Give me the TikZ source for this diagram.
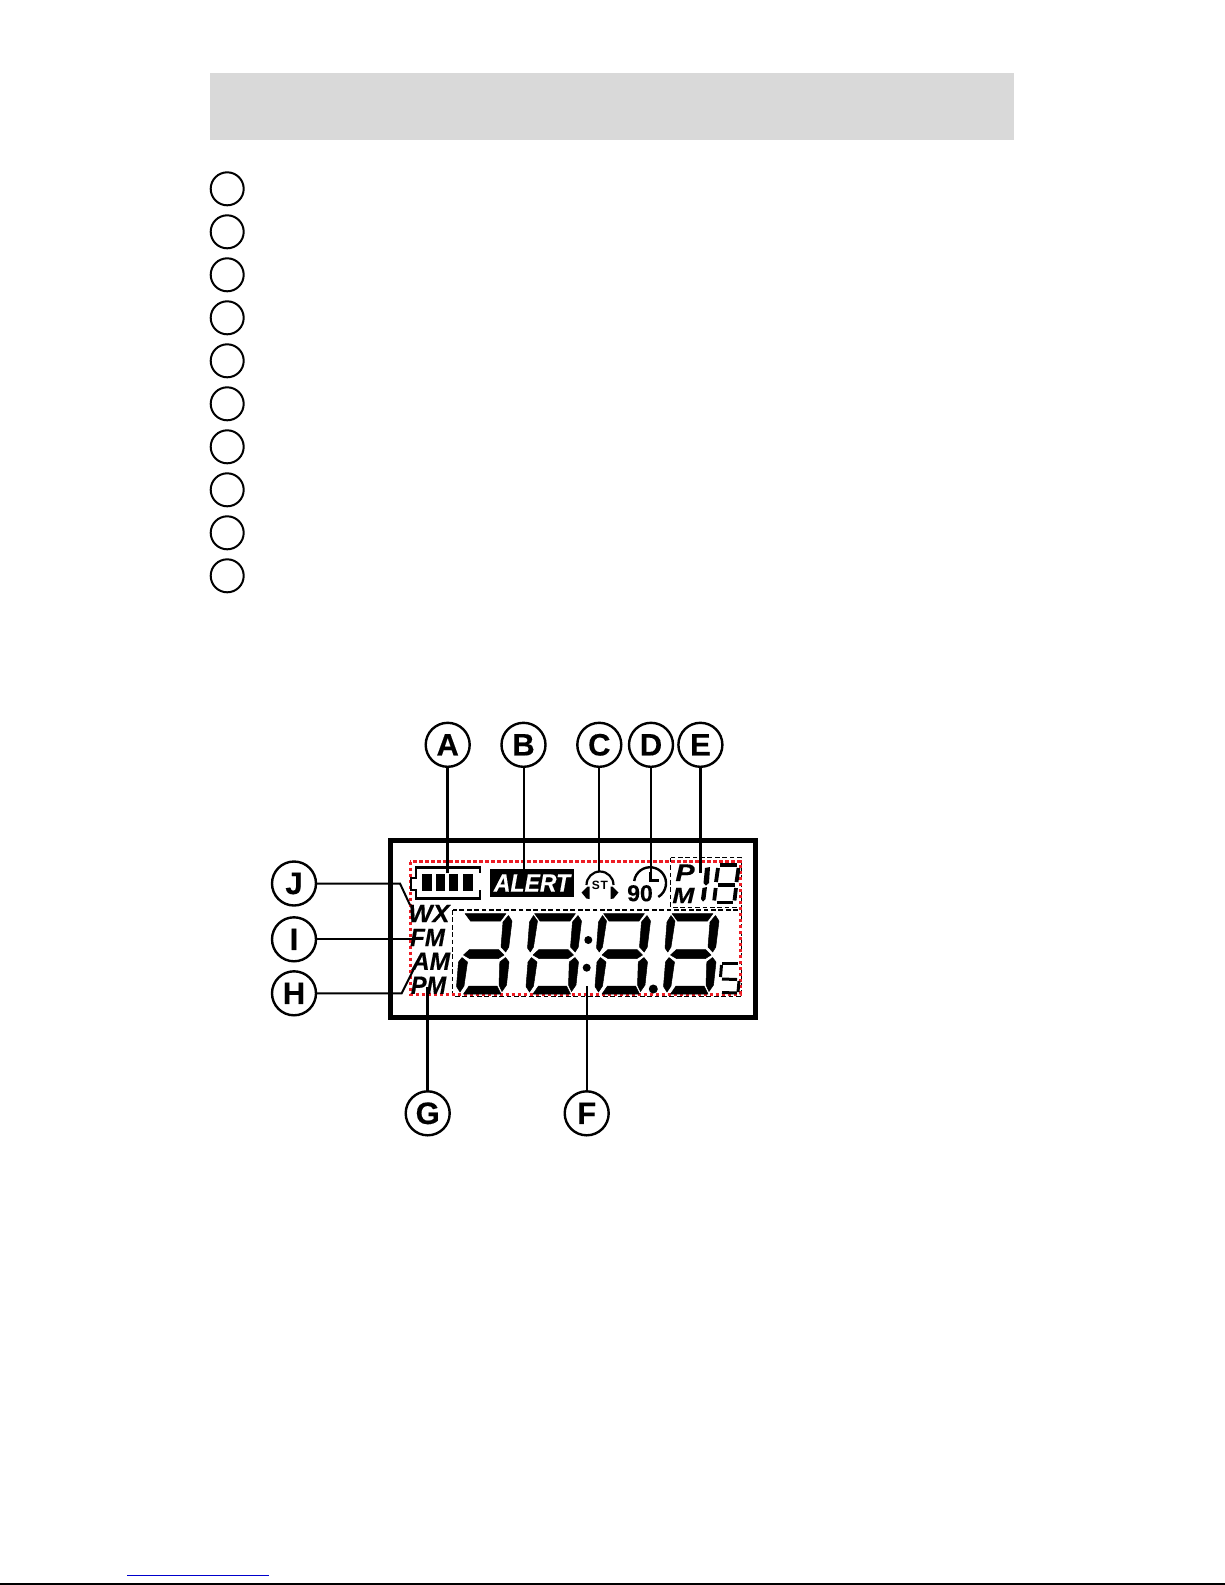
\documentclass[tikz,border=0pt]{standalone}
\usepackage{fontspec}
\setmainfont{Liberation Sans}
\newfontfamily\lcdfam[BoldItalicFeatures={FakeBold=0.35},BoldFeatures={FakeBold=0.25}]{Liberation Sans}
\definecolor{lcdred}{HTML}{ED1C24}
\definecolor{hdrgray}{HTML}{D9D9D9}
\definecolor{linkblue}{HTML}{0000CC}
\newcommand{\fsz}[1]{\fontsize{#1}{#1}\selectfont}
\newcommand{\digT}{\fill[seg] (465,913.5)--(506,913.5)--(500.5,921)--(470.5,921)--cycle;}
\newcommand{\digUR}{\fill[seg] (508.5,915.5)--(512,921)--(508.8,947)--(505.7,952)--(501,947)--(503,922)--cycle;}
\newcommand{\digUL}{\fill[seg] (464,915.5)--(468,921)--(464,947)--(460.8,952)--(458,948)--(460,922)--cycle;}
\newcommand{\digM}{\fill[seg] (463.5,955)--(469.5,949.5)--(498.5,949.5)--(504,955)--(498.5,958.5)--(469.5,958.5)--cycle;}
\newcommand{\digLL}{\fill[seg] (462,957.5)--(467.5,962)--(464,986)--(460,992)--(456.5,986.5)--(458.5,962)--cycle;}
\newcommand{\digLR}{\fill[seg] (505.5,957.5)--(509,962)--(506.5,985)--(502,991.5)--(499,985)--(499.8,962)--cycle;}
\newcommand{\digB}{\fill[seg] (463.5,994)--(469,986)--(497,986)--(501,994)--cycle;}
\tikzset{
  seg/.style={black,draw=black,line width=.5pt,line join=round},
  listcirc/.style={circle,draw=black,line width=2pt,minimum size=33pt,inner sep=0pt,outer sep=0pt},
  callout/.style={circle,draw=black,line width=2.4pt,minimum size=44pt,inner sep=0pt,outer sep=0pt,font=\lcdfam\bfseries\fsz{31}},
  lcdtext/.style={font=\lcdfam\bfseries\itshape\fsz{25},inner sep=0pt,outer sep=0pt},
  thinlead/.style={line width=2pt},
  midlead/.style={line width=2.6pt},
  blackdash/.style={line width=1.2pt,dash pattern=on 4.7pt off 2.7pt},
  reddots/.style={draw=lcdred,line width=3pt,dash pattern=on 3.5pt off 2.5pt},
  thinseg/.style={line width=3pt},
  smallseg/.style={line width=3.8pt}
}
\begin{document}
\begin{tikzpicture}[x=1pt,y=-1pt]
\useasboundingbox (0,0) rectangle (1225,1585);
\fill[white] (0,0) rectangle (1225,1585);
% header band
\fill[hdrgray] (210,72.7) rectangle (1014,140);
% list circles
\foreach \i in {0,...,9} \node[listcirc] (L\i) at (227.2,188.8+43*\i) {};
% footer rules
\draw[linkblue,line width=1pt] (127,1575.3) -- (269,1575.3);
\draw[black,line width=1.2pt] (0,1584) -- (1225,1584);
% LCD frame
\draw[line width=5pt,line join=miter] (390,840) rectangle (755.5,1017.5);
% dashed zones
\draw[blackdash] (452.7,910) rectangle (741.7,996.7);
\draw[blackdash] (670.7,857.7) rectangle (741.7,907.3);
\draw[reddots] (410,861.7) rectangle (740,994);
% battery
\draw[line width=2.4pt] (480,873) -- (480,867.3) -- (416,867.3) -- (416,878) -- (411,878) -- (411,890) -- (416,890) -- (416,898.3) -- (480,898.3) -- (480,890);
\fill (422.3,874) rectangle (431.7,890.7);
\fill (435.7,874) rectangle (445,890.7);
\fill (449,874) rectangle (458.3,890.7);
\fill (463.3,874) rectangle (472.7,890.7);
% ALERT
\node[fill=black,minimum width=84pt,minimum height=27.7pt,inner sep=0pt,outer sep=0pt] (alertbox) at (532,882.8) {};
\node[lcdtext,text=white,xscale=.92] (alerttext) at (532,883) {ALERT};
% headphones
\draw[line width=2.2pt] (586.5,885) arc[start angle=180,end angle=360,radius=13.5];
\fill (587.5,886.5)--(589.5,886.5)--(589.5,899)--(586.5,898.5)--(581.5,892.5)--cycle;
\fill (612.5,886.5)--(610.5,886.5)--(610.5,899)--(613.5,898.5)--(618.5,892.5)--cycle;
\node[font=\bfseries\fsz{12},inner sep=0pt] (st) at (600,885.5) {S\kern.8pt T};
% clock
\draw[line width=2.4pt] (634.2,881) arc[start angle=-172,end angle=59,radius=16];
\draw[line width=2.8pt] (650,871.7) -- (650,880.7) -- (659,880.7);
\node[font=\lcdfam\bfseries\fsz{23},inner sep=0pt] (ninety) at (640,893.3) {90};
% PM side
\node[lcdtext,font=\lcdfam\bfseries\itshape\fsz{24},xscale=1.2] (pbig) at (685,872.7) {P};
\node[lcdtext,font=\lcdfam\bfseries\itshape\fsz{22},xscale=1.2] (mbig) at (683.3,895.5) {M};
% band figures
\fill (705,868)--(710,867)--(709,883)--(706,885.5)--(703.5,883)--cycle;
\fill (702.5,888)--(707,887)--(705.5,899)--(703,901.5)--(701,899)--cycle;
\draw[smallseg] (720,865.2) -- (737,865.2);
\draw[smallseg] (718,868) -- (716,882);
\draw[smallseg] (738.5,868) -- (736.5,882);
\draw[smallseg] (718,885) -- (735,885);
\draw[smallseg] (715.7,888) -- (714.2,900.5);
\draw[smallseg] (736,888) -- (734.5,900.5);
\draw[smallseg] (716.5,902.5) -- (733,902.5);
% main digits
\digT \digUR \digM \digLL \digLR \digB
\foreach \o in {69.5,138.5,207} {
  \begin{scope}[xshift=\o pt]
    \digT \digUR \digUL \digM \digLL \digLR \digB
  \end{scope}
}
% colon and decimal
\fill (588.3,940) circle[radius=4];
\fill (586.7,967.7) circle[radius=4];
\fill (653.3,989) circle[radius=4.5];
% small s
\draw[thinseg] (722,963.5) -- (738,963.5);
\draw[thinseg] (721.5,965) -- (720.5,977);
\draw[thinseg] (722,979) -- (737,979.5);
\draw[thinseg] (739,981) -- (738,992);
\draw[thinseg] (722,992.5) -- (737,993);
% band labels
\node[lcdtext,xscale=1.02] (wx) at (429,913.5) {WX};
\node[lcdtext,xscale=.96] (fm) at (427.5,937.5) {FM};
\node[lcdtext,xscale=.98] (am) at (431,961.2) {AM};
\node[lcdtext,xscale=.94] (pm) at (428.5,985.2) {PM};
% callouts
\node[callout] (A) at (447.7,744.8) {A};
\node[callout] (B) at (523.5,744.8) {B};
\node[callout] (C) at (599.3,744.8) {C};
\node[callout] (D) at (651,744.8) {D};
\node[callout] (E) at (700.4,744.8) {E};
\node[callout] (J) at (294,883.5) {J};
\node[callout] (I) at (294,939.3) {I};
\node[callout] (H) at (294,993.3) {H};
\node[callout] (G) at (427.7,1113.3) {G};
\node[callout] (F) at (586.7,1113.3) {F};
% connector ends
\coordinate (aend) at (447.7,873);
\coordinate (bend) at (523.5,870);
\coordinate (cend) at (599.3,871.7);
\coordinate (dend) at (651,880);
\coordinate (eend) at (700.4,873);
\coordinate (jb) at (400,883.5);
\coordinate (jc) at (410,905);
\coordinate (iend) at (412,939.3);
\coordinate (hb) at (401.7,993.3);
\coordinate (hc) at (415,966.7);
\coordinate (gend) at (427.7,987);
\coordinate (fend) at (586.7,986);
\draw[line width=3pt] (A) -- (aend);
\draw[line width=2pt] (B) -- (bend);
\draw[thinlead] (C) -- (cend);
\draw[midlead] (D) -- (dend);
\draw[midlead] (E) -- (eend);
\draw[thinlead] (J) -- (jb) -- (jc);
\draw[thinlead] (I) -- (iend);
\draw[thinlead] (H) -- (hb) -- (hc);
\draw[midlead] (G) -- (gend);
\draw[thinlead] (F) -- (fend);
\end{tikzpicture}
\end{document}
